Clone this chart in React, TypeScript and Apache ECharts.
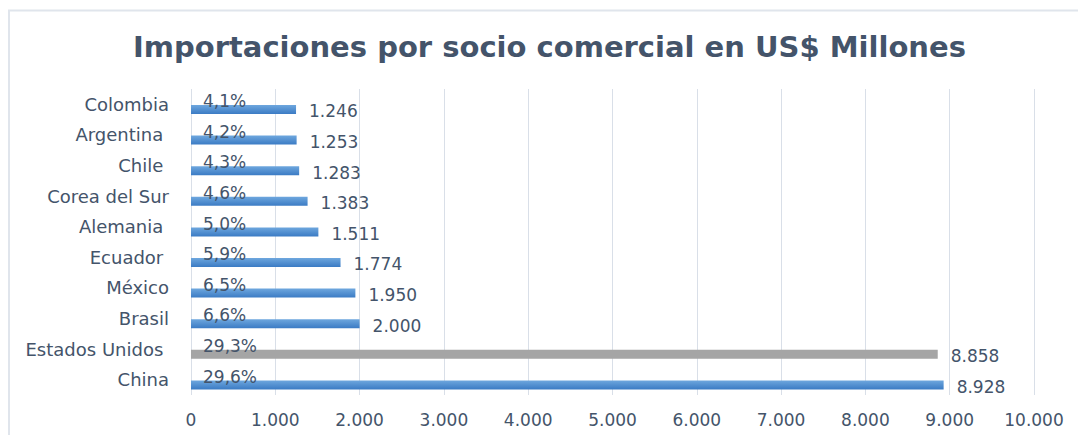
import React, { useEffect, useRef } from "react";
import * as echarts from "echarts";

const categories = [
  "China",
  "Estados Unidos ",
  "Brasil",
  "México",
  "Ecuador ",
  "Alemania ",
  "Corea del Sur",
  "Chile ",
  "Argentina ",
  "Colombia",
];
const values = [8928, 8858, 2000, 1950, 1774, 1511, 1383, 1283, 1253, 1246];
const shares = ["29,6%", "29,3%", "6,6%", "6,5%", "5,9%", "5,0%", "4,6%", "4,3%", "4,2%", "4,1%"];
const xTicks = [0, 1000, 2000, 3000, 4000, 5000, 6000, 7000, 8000, 9000, 10000];

const TEXT = "#44546a";
const FONT = "DejaVu Sans";

const fmt = (v: number) => {
  const s = String(Math.round(v));
  return s.replace(/\B(?=(\d{3})+(?!\d))/g, ".");
};

export default function App() {
  const ref = useRef<HTMLDivElement>(null);
  useEffect(() => {
    document.body.style.margin = "0";
    const chart = echarts.init(ref.current!, undefined, { renderer: "svg" });
    const blue = new echarts.graphic.LinearGradient(0, 0, 0, 1, [
      { offset: 0, color: "#6ea7de" },
      { offset: 1, color: "#3b7bc4" },
    ]);
    chart.setOption({
      animation: false,
      title: {
        text: "Importaciones por socio comercial en US$ Millones",
        left: 128,
        top: 27,
        textStyle: { fontFamily: FONT, fontSize: 29, fontWeight: "bold", color: TEXT },
      },
      graphic: [
        { type: "line", shape: { x1: 8, y1: 10.5, x2: 1078, y2: 10.5 }, style: { stroke: "#e0e5ec", lineWidth: 2 } },
        { type: "line", shape: { x1: 9, y1: 10, x2: 9, y2: 435 }, style: { stroke: "#e0e5ec", lineWidth: 2 } },
      ],
      grid: { left: 191, right: 1078 - 1034, top: 89, bottom: 435 - 395, containLabel: false },
      xAxis: {
        type: "value",
        min: xTicks[0],
        max: xTicks[xTicks.length - 1],
        interval: 1000,
        axisLine: { show: false },
        axisTick: { show: false },
        splitLine: { lineStyle: { color: "#d9dfe8", width: 1 } },
        axisLabel: { margin: 16, color: TEXT, fontFamily: FONT, fontSize: 17, formatter: (v: number) => fmt(v) },
      },
      yAxis: {
        type: "category",
        data: categories,
        axisLine: { show: false },
        axisTick: { show: false },
        axisLabel: { margin: 22, color: TEXT, fontFamily: FONT, fontSize: 18 },
      },
      series: [
        {
          type: "bar",
          name: "Participación",
          barWidth: 9,
          barGap: "15%",
          data: values,
          itemStyle: { color: "rgba(0,0,0,0)" },
          label: {
            show: true,
            position: "insideLeft",
            distance: 5,
            offset: [7, 2],
            color: TEXT,
            fontFamily: FONT,
            fontSize: 17,
            formatter: (p: any) => shares[p.dataIndex],
          },
        },
        {
          type: "bar",
          name: "Valor",
          barWidth: 9,
          barGap: "15%",
          data: values.map((v, i) => ({
            value: v,
            itemStyle: { color: i === 1 ? "#a5a5a5" : blue },
          })),
          label: {
            show: true,
            position: "right",
            distance: 13,
            offset: [0, 2],
            color: TEXT,
            fontFamily: FONT,
            fontSize: 17,
            formatter: (p: any) => fmt(p.value),
          },
        },
      ],
    });
    return () => chart.dispose();
  }, []);
  return <div ref={ref} style={{ width: 1078, height: 435 }} />;
}
